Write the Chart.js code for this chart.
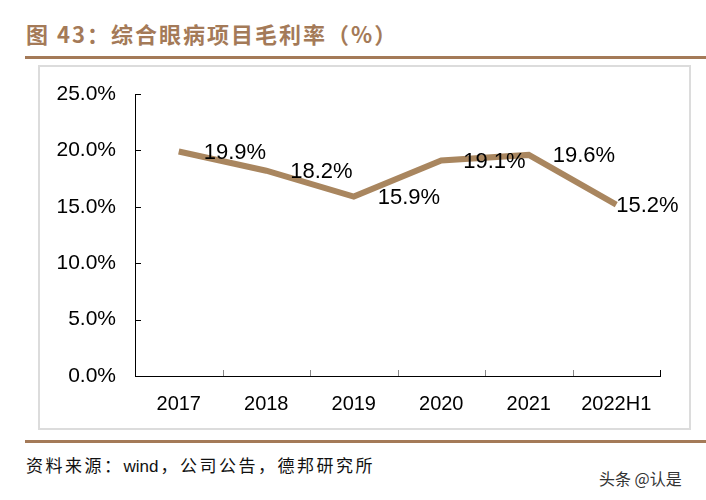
<!DOCTYPE html>
<html>
<head>
<meta charset="utf-8">
<script src="https://cdn.jsdelivr.net/npm/chart.js@4/dist/chart.umd.min.js"></script>
<style>
  body { margin: 0; background: #fff; }
  #wrap { position: relative; width: 706px; height: 500px; overflow: hidden; }
  #title { position: absolute; left: 26px; top: 18px; font: bold 22px "Noto Sans CJK SC", sans-serif; letter-spacing: 2px; color: #a47a58; white-space: nowrap; line-height: 30px; }
  .rule { position: absolute; left: 25px; width: 681px; height: 3px; background: #a47a58; }
  #box { position: absolute; left: 38px; top: 65px; width: 649px; height: 361px; border: 2px solid #dcdcdc; }
  #source { position: absolute; left: 26px; top: 454px; font: 17px "Noto Sans CJK SC", sans-serif; letter-spacing: 2.5px; color: #111; white-space: nowrap; line-height: 22px; }
  #source span { font-family: "Liberation Sans", Arial, sans-serif; letter-spacing: 0; margin-right: 2px; }
  #mark { position: absolute; left: 599px; top: 467px; font: 16px "Noto Sans CJK SC", sans-serif; color: #333; white-space: nowrap; line-height: 22px; }
  canvas { position: absolute; left: 0; top: 0; }
</style>
</head>
<body>
<div id="wrap">
  <div id="title">图 43：综合眼病项目毛利率（%）</div>
  <div class="rule" style="top:56px"></div>
  <div id="box"></div>
  <div class="rule" style="top:440px"></div>
  <div id="source">资料来源：<span>wind</span>，公司公告，德邦研究所</div>
  <div id="mark">头条 @认是</div>
  <canvas id="c" width="706" height="500"></canvas>
</div>
<script>
// données
const years = ["2017", "2018", "2019", "2020", "2021", "2022H1"];
const margin = [19.9, 18.2, 15.9, 19.1, 19.6, 15.2];
const yTicks = [0, 5, 10, 15, 20, 25];

const brown = "#a9865f";
const family = "Liberation Sans, Arial, sans-serif";

// étiquettes à droite des points + petites graduations vers l'intérieur
const extras = {
  id: "extras",
  afterDatasetsDraw(chart) {
    const ctx = chart.ctx;
    const xs = chart.scales.x, ys = chart.scales.y;
    const area = chart.chartArea;
    ctx.save();
    // graduations axe y
    ctx.strokeStyle = "#000";
    ctx.lineWidth = 1;
    yTicks.forEach(v => {
      const y = Math.round(ys.getPixelForValue(v)) + 0.5;
      ctx.beginPath();
      ctx.moveTo(area.left, y);
      ctx.lineTo(area.left + 6, y);
      ctx.stroke();
    });
    // graduations axe x (entre catégories)
    for (let i = 1; i <= years.length; i++) {
      let x = i < years.length
        ? (xs.getPixelForTick(i - 1) + xs.getPixelForTick(i)) / 2
        : area.right;
      x = Math.round(x) + 0.5;
      ctx.strokeStyle = i < years.length ? "#888" : "#000";
      ctx.beginPath();
      ctx.moveTo(x, area.bottom);
      ctx.lineTo(x, area.bottom - 6);
      ctx.stroke();
    }
    // étiquettes de données
    const dx = [25, 24, 24, 22, 24, 0];
    ctx.fillStyle = "#000";
    ctx.font = "22px " + family;
    ctx.textAlign = "left";
    ctx.textBaseline = "middle";
    chart.getDatasetMeta(0).data.forEach((pt, i) => {
      ctx.fillText(margin[i].toFixed(1) + "%", pt.x + dx[i], pt.y + 1);
    });
    ctx.restore();
  }
};

new Chart(document.getElementById("c"), {
  type: "line",
  data: {
    labels: years,
    datasets: [{
      data: margin,
      borderColor: brown,
      borderWidth: 6,
      pointRadius: 0,
      tension: 0,
      fill: false,
    }],
  },
  options: {
    responsive: false,
    animation: false,
    events: [],
    layout: { padding: { top: 94, right: 46, bottom: 0, left: 0 } },
    plugins: { legend: { display: false }, tooltip: { enabled: false } },
    scales: {
      x: {
        offset: true,
        grid: { display: false, drawTicks: false },
        border: { display: true, color: "#000", width: 1 },
        ticks: { color: "#000", font: { family: family, size: 20 }, padding: 16, maxRotation: 0 },
        afterFit: s => { s.height = 124; },
      },
      y: {
        min: 0,
        max: 25,
        afterBuildTicks: s => { s.ticks = yTicks.map(v => ({ value: v })); },
        grid: { display: false, drawTicks: false },
        border: { display: true, color: "#000", width: 1 },
        ticks: { color: "#000", font: { family: family, size: 21 }, padding: 19, callback: v => v.toFixed(1) + "%" },
        afterFit: s => { s.width = 135; },
      },
    },
  },
  plugins: [extras],
});
</script>
</body>
</html>
